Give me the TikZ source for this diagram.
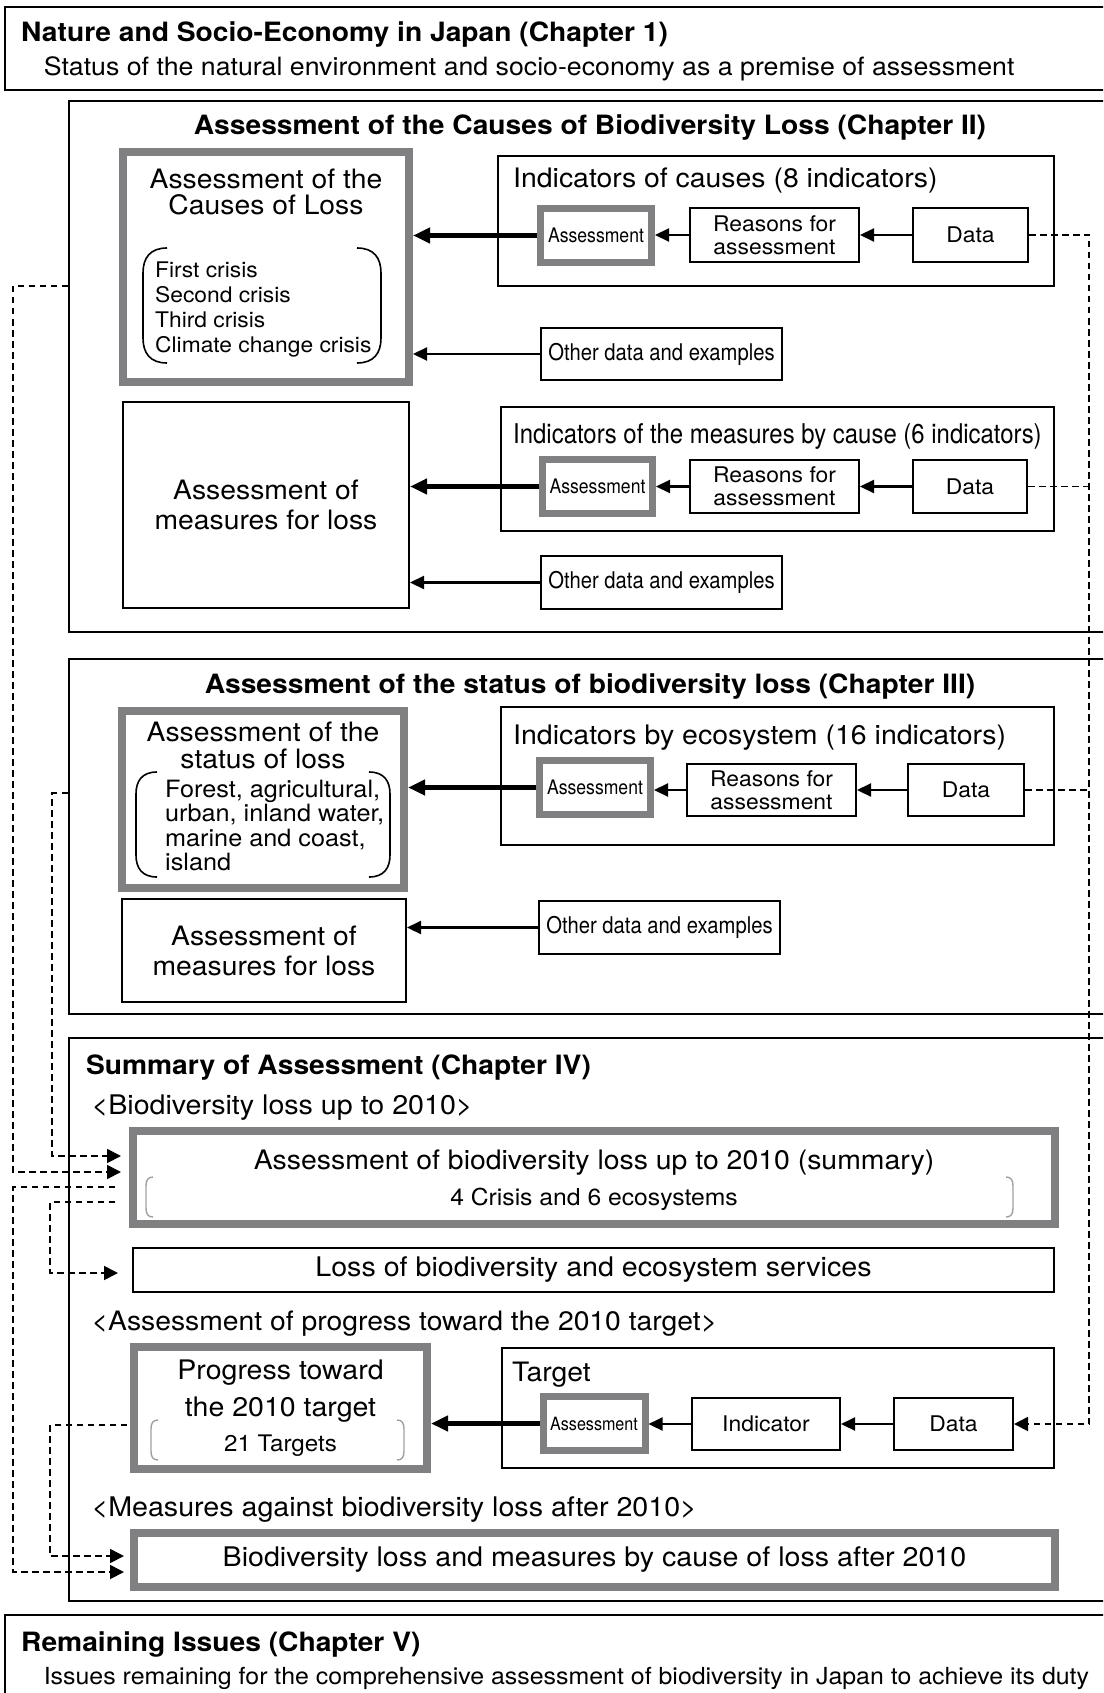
\documentclass[tikz,border=0pt]{standalone}
\usepackage{fontspec}
\setmainfont{TeX Gyre Heros}[FakeStretch=1.06]
\newfontfamily\condf{TeX Gyre Heros}[FakeStretch=0.88]
\usetikzlibrary{arrows.meta,calc}
\definecolor{gbox}{RGB}{128,128,131}
\definecolor{gbr}{RGB}{160,160,162}
\newcommand\myfs[1]{\fontsize{#1}{#1}\selectfont}
\newcommand\bxn[8]{\node[#1, line width=#2pt, minimum width={#6-#4-#2}, minimum height={#7-#5-#2}] (#3) at ({(#4+#6)/2},{(#5+#7)/2}) {#8};}
\begin{document}
\begin{tikzpicture}[x=1pt,y=-1pt,
  tbox/.style={draw=black, fill=white, inner sep=0pt, align=center},
  gbx/.style={draw=gbox, fill=white, inner sep=0pt, align=center},
  cbox/.style={draw=black, inner sep=0pt},
  thk/.style={line width=4.6pt, -{Triangle[length=17pt,width=15pt]}},
  thn/.style={line width=2.2pt, -{Triangle[length=14pt,width=13pt]}},
  dsh/.style={line width=1.8pt, dash pattern=on 6.5pt off 4.5pt},
  dsa/.style={dsh, -{Triangle[length=14pt,width=14pt]}},
  brk/.style={line width=1.6pt},
  gbrk/.style={line width=1.4pt, draw=gbr},
  tx/.style={inner sep=0pt, anchor=base west},
  tc/.style={inner sep=0pt, anchor=base},
  fbig/.style={font=\fontsize{26.7}{30}\selectfont},
  fsm/.style={font=\fontsize{21.6}{23}\selectfont},
  fas/.style={font=\condf\fontsize{20}{20}\selectfont},
  fod/.style={font=\condf\fontsize{23}{23}\selectfont},
  ftl/.style={font=\bfseries\fontsize{26.6}{26.6}\selectfont}
]
\useasboundingbox (0,0) rectangle (1103,1693);
\clip (0,0) rectangle (1103,1693);

% chapter frames
\bxn{cbox}{2.4}{ch1}{3.5}{6}{1120}{91}{}
\bxn{cbox}{2.4}{ch2}{68}{100}{1120}{633}{}
\bxn{cbox}{2.4}{ch3}{68}{658}{1120}{1015}{}
\bxn{cbox}{2.4}{ch4}{68}{1037}{1120}{1602}{}
\bxn{cbox}{2.4}{ch5}{3.5}{1614}{1120}{1720}{}

% chapter 1
\node[tx, ftl] (t1) at (21,41.5) {Nature and Socio-Economy in Japan (Chapter 1)};
\node[tx, font=\myfs{25.2}] (s1) at (43.6,76) {Status of the natural environment and socio-economy as a premise of assessment};

% chapter 2
\node[tc, ftl] (t2) at (590,134.5) {Assessment of the Causes of Biodiversity Loss (Chapter II)};
\bxn{gbx}{8}{cause}{119}{148}{413}{386}{}
\node[tc, font=\myfs{26.7}] (c1) at (266,189) {Assessment of the};
\node[tc, font=\myfs{26.7}] (c2) at (266,215) {Causes of Loss};
\node[tx, font=\myfs{21.5}] (l1) at (155,277.5) {First crisis};
\node[tx, font=\myfs{21.5}] (l2) at (155,302.5) {Second crisis};
\node[tx, font=\myfs{21.5}] (l3) at (155,327.5) {Third crisis};
\node[tx, font=\myfs{21.5}] (l4) at (155,352) {Climate change crisis};
\draw[brk] (167,248) .. controls (150,248) and (143,258) .. (143,273) -- (143,338) .. controls (143,353) and (150,363) .. (167,363);
\draw[brk] (357,248) .. controls (374,248) and (381,258) .. (381,273) -- (381,338) .. controls (381,353) and (374,363) .. (357,363);

\bxn{tbox}{2}{ind1}{497}{155}{1055}{287}{}
\node[tx, font=\myfs{26.8}] (i1) at (513,188) {Indicators of causes (8 indicators)};
\bxn{gbx,fas}{7}{as1}{537}{205}{655}{266}{Assessment}
\bxn{tbox,fsm}{2}{re1}{689}{207}{860}{263}{Reasons for\\assessment}
\bxn{tbox,fsm}{2}{da1}{912}{207}{1029}{263}{Data}
\bxn{tbox,fod}{2}{od1}{540}{327}{783}{381}{Other data and examples}

\bxn{tbox,fbig}{2}{me2}{122}{401}{410}{609}{Assessment of\\measures for loss}
\bxn{tbox}{2}{ind2}{500}{406}{1055}{532}{}
\node[tx, font=\condf\myfs{27.2}] (i2) at (513,443) {Indicators of the measures by cause (6 indicators)};
\bxn{gbx,fas}{7}{as2}{539}{456}{656}{517}{Assessment}
\bxn{tbox,fsm}{2}{re2}{689}{459}{860}{514}{Reasons for\\assessment}
\bxn{tbox,fsm}{2}{da2}{912}{459}{1028}{514}{Data}
\bxn{tbox,fod}{2}{od2}{540}{555}{783}{610}{Other data and examples}

% chapter 3
\node[tc, ftl] (t3) at (590,693.5) {Assessment of the status of biodiversity loss (Chapter III)};
\bxn{gbx}{8}{stat}{117.5}{707}{408}{892}{}
\node[tc, font=\myfs{26.7}] (s3a) at (263,741) {Assessment of the};
\node[tc, font=\myfs{26.7}] (s3b) at (263,768) {status of loss};
\node[tx, font=\myfs{23.8}] (e1) at (165,797) {Forest, agricultural,};
\node[tx, font=\myfs{23.8}] (e2) at (165,821.8) {urban, inland water,};
\node[tx, font=\myfs{23.8}] (e3) at (165,846.5) {marine and coast,};
\node[tx, font=\myfs{23.8}] (e4) at (165,870.8) {island};
\draw[brk] (157,772) .. controls (142,772) and (136,781) .. (136,794) -- (136,855) .. controls (136,868) and (142,877) .. (157,877);
\draw[brk] (369,772) .. controls (384,772) and (390,781) .. (390,794) -- (390,855) .. controls (390,868) and (384,877) .. (369,877);

\bxn{tbox}{2}{ind3}{500}{706}{1055}{846}{}
\node[tx, font=\myfs{26.9}] (i3) at (513,744) {Indicators by ecosystem (16 indicators)};
\bxn{gbx,fas}{7}{as3}{536}{757}{654}{818}{Assessment}
\bxn{tbox,fsm}{2}{re3}{686}{763}{857}{817}{Reasons for\\assessment}
\bxn{tbox,fsm}{2}{da3}{907}{763}{1025}{817}{Data}
\bxn{tbox,fbig}{2}{me3}{121}{898}{407}{1003}{Assessment of\\measures for loss}
\bxn{tbox,fod}{2}{od3}{538}{900}{781}{955}{Other data and examples}

% chapter 4
\node[tx, ftl] (t4) at (85.8,1074.5) {Summary of Assessment (Chapter IV)};
\node[tx, font=\myfs{27}] (h1) at (91.4,1114) {<Biodiversity loss up to 2010>};
\bxn{gbx}{8}{sum}{129}{1127}{1059}{1228}{}
\node[tc, font=\myfs{26.8}] (sm1) at (594,1169.5) {Assessment of biodiversity loss up to 2010 (summary)};
\node[tc, font=\myfs{23.3}] (sm2) at (594,1205) {4 Crisis and 6 ecosystems};
\draw[gbrk] (153,1177) .. controls (148,1177) and (146,1180) .. (146,1186) -- (146,1208) .. controls (146,1214) and (148,1217) .. (153,1217);
\draw[gbrk] (1006,1177) .. controls (1011,1177) and (1013,1180) .. (1013,1186) -- (1013,1208) .. controls (1013,1214) and (1011,1217) .. (1006,1217);
\bxn{tbox,font=\myfs{27}}{2}{loss}{132}{1247}{1055}{1293}{Loss of biodiversity and ecosystem services}

\node[tx, font=\myfs{26.7}] (h2) at (91.4,1330) {<Assessment of progress toward the 2010 target>};
\bxn{gbx}{8}{prog}{130}{1343}{431}{1473}{}
\node[tc, font=\myfs{26.9}] (p1) at (280.5,1379.5) {Progress toward};
\node[tc, font=\myfs{26.9}] (p2) at (280.5,1416) {the 2010 target};
\node[tc, font=\myfs{22.8}] (p3) at (280.5,1451.5) {21 Targets};
\draw[gbrk] (158,1420) .. controls (153,1420) and (151,1423) .. (151,1429) -- (151,1451) .. controls (151,1457) and (153,1460) .. (158,1460);
\draw[gbrk] (397,1420) .. controls (402,1420) and (404,1423) .. (404,1429) -- (404,1451) .. controls (404,1457) and (402,1460) .. (397,1460);

\bxn{tbox}{2}{tgt}{501}{1347}{1055}{1469}{}
\node[tx, font=\myfs{26.7}] (tg) at (512,1381) {Target};
\bxn{gbx,font=\condf\fontsize{18.3}{18.3}\selectfont}{7}{as4}{539.5}{1393}{648.5}{1454}{Assessment}
\bxn{tbox,fsm}{2}{ind}{691}{1397}{841}{1451}{Indicator}
\bxn{tbox,fsm}{2}{da4}{893}{1397}{1014}{1451}{Data}

\node[tx, font=\myfs{27}] (h3) at (91.4,1516) {<Measures against biodiversity loss after 2010>};
\bxn{gbx,font=\myfs{27}}{8}{maft}{130}{1529}{1059}{1591}{Biodiversity loss and measures by cause of loss after 2010}

% chapter 5
\node[tx, ftl] (t5) at (21,1651) {Remaining Issues (Chapter V)};
\node[tx, font=\myfs{23.5}] (s5) at (43.6,1684.5) {Issues remaining for the comprehensive assessment of biodiversity in Japan to achieve its duty};

% solid arrows
\draw[thk] (as1.west) -- (as1.west -| cause.east);
\draw[thn] (re1.west) -- (re1.west -| as1.east);
\draw[thn] (da1.west) -- (da1.west -| re1.east);
\draw[thn] (od1.west) -- (od1.west -| cause.east);
\draw[thk] (as2.west) -- (as2.west -| me2.east);
\draw[thn] (re2.west) -- (re2.west -| as2.east);
\draw[thn] (da2.west) -- (da2.west -| re2.east);
\draw[thn] (od2.west) -- (od2.west -| me2.east);
\draw[thk] (as3.west) -- (as3.west -| stat.east);
\draw[thn] (re3.west) -- (re3.west -| as3.east);
\draw[thn] (da3.west) -- (da3.west -| re3.east);
\draw[thn] (od3.west) -- (od3.west -| me3.east);
\draw[thk] (as4.west) -- (as4.west -| prog.east);
\draw[thn] (ind.west) -- (ind.west -| as4.east);
\draw[thn] (da4.west) -- (da4.west -| ind.east);

% dashed connectors, right
\coordinate (rx) at (1089,0);
\draw[dsa] (da1.east) -- (da1.east -| rx) -- (da4.east -| rx) -- (da4.east);
\draw[dsh] (da2.east) -- (da2.east -| rx);
\draw[dsh] (da3.east) -- (da3.east -| rx);

% dashed connectors, left
\coordinate (ca) at (68,286);
\coordinate (cb) at (68,793);
\coordinate (sa1) at (121,1156);
\coordinate (sa2) at (121,1172);
\coordinate (so1) at (115,1187);
\coordinate (so2) at (115,1202);
\coordinate (la) at (118,1273);
\coordinate (po) at (127,1425);
\coordinate (ma1) at (124,1556);
\coordinate (ma2) at (124,1572);
\draw[dsa] (ca) -| (13,1172) -- (sa2);
\draw[dsa] (cb) -| (52,1156) -- (sa1);
\draw[dsa] (so1) -| (13,1572) -- (ma2);
\draw[dsa] (so2) -| (50,1273) -- (la);
\draw[dsa] (po) -| (50,1556) -- (ma1);
\end{tikzpicture}
\end{document}
